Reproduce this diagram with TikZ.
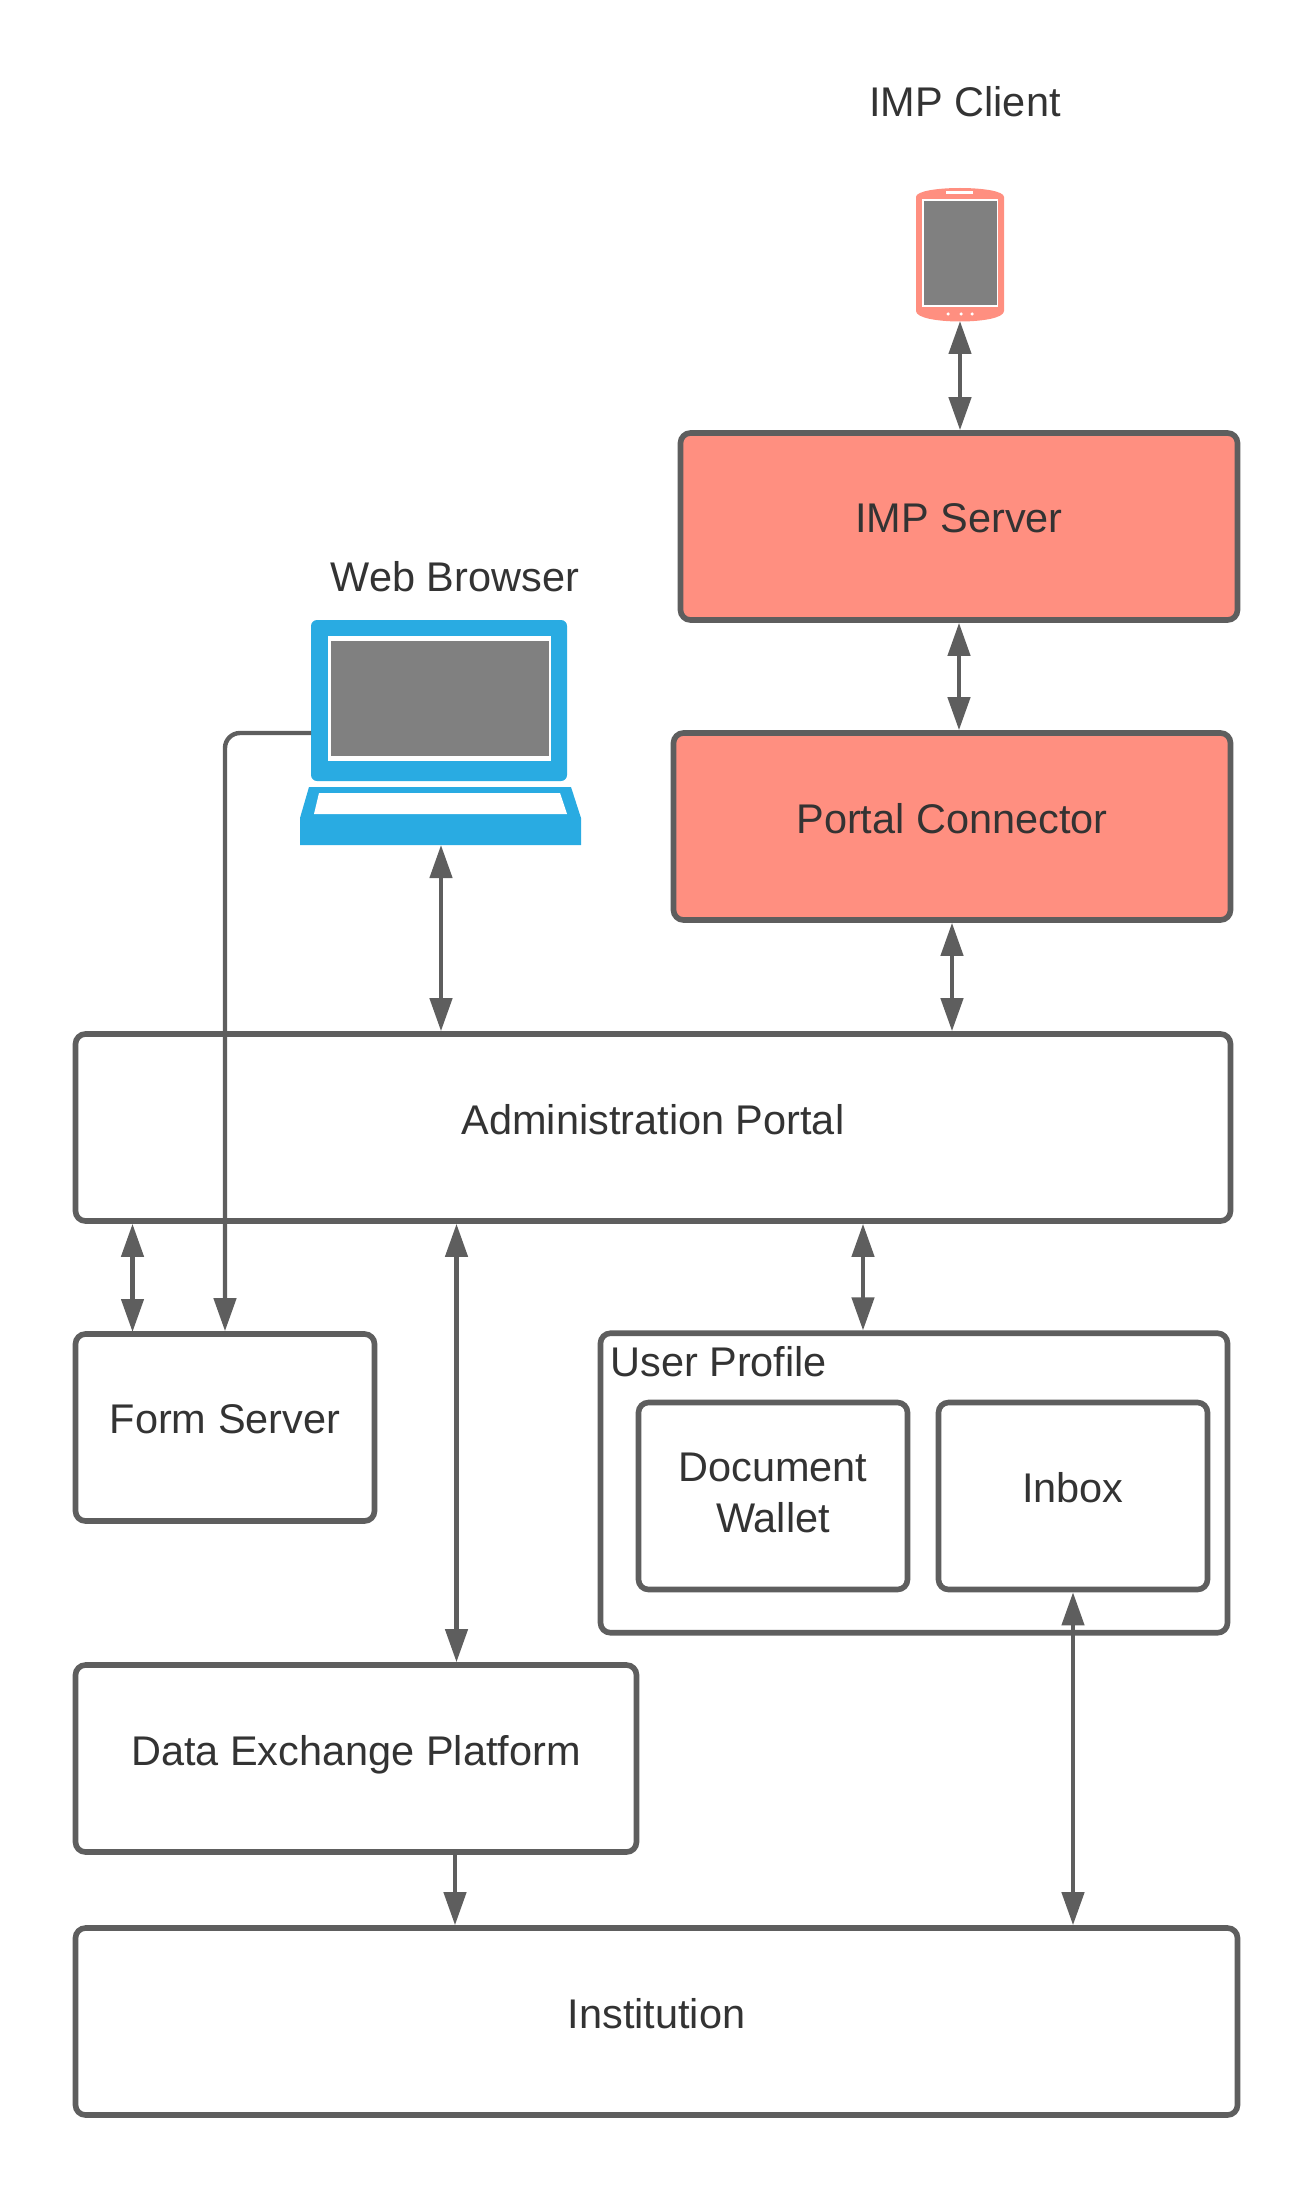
\documentclass[tikz,border=0pt]{standalone}
\usepackage{fontspec}
\setmainfont{Liberation Sans}
\usetikzlibrary{arrows.meta}
\definecolor{salmon}{HTML}{FF8F80}
\definecolor{edgegrey}{HTML}{5E5E5E}
\definecolor{textgrey}{HTML}{333333}
\definecolor{screengrey}{HTML}{808080}
\definecolor{laptopblue}{HTML}{29ABE2}
\begin{document}
\begin{tikzpicture}[
  box/.style={draw=edgegrey, line width=3.2pt, rounded corners=0.2cm, fill=white, minimum height=3.74cm, text=textgrey, font=\fontsize{23.6}{29}\selectfont, align=center, text depth=9.2pt, inner sep=0pt},
  red box/.style={box, fill=salmon},
  title/.style={text=textgrey, font=\fontsize{23.6}{29}\selectfont, inner sep=0pt},
  link/.style={edgegrey, line width=2.5pt, rounded corners=0.3cm},
  one way/.style={link, -{Triangle[length=0.66cm, width=0.44cm]}},
  two way/.style={link, {Triangle[length=0.66cm, width=0.44cm]}-{Triangle[length=0.66cm, width=0.44cm]}}
]
  \path[use as bounding box] (0,0) rectangle (26.26,-43.8);

  % Phone
  \fill[salmon] (18.32,-3.94) .. controls (18.32,-3.7) and (20.08,-3.7) .. (20.08,-3.94)
    -- (20.08,-6.22) .. controls (20.08,-6.5) and (18.32,-6.5) .. (18.32,-6.22) -- cycle;
  \fill[white] (18.44,-3.98) rectangle (19.96,-6.14);
  \fill[screengrey] (18.48,-4.02) rectangle (19.94,-6.1);
  \fill[white] (18.92,-3.83) rectangle (19.46,-3.89);
  \foreach \dotx in {18.96,19.22,19.44} {
    \fill[white] (\dotx,-6.28) circle (0.035);
  }

  % Laptop
  \fill[laptopblue, rounded corners=0.12cm] (6.22,-12.4) rectangle (11.34,-15.62);
  \fill[white] (6.56,-12.72) rectangle (11.02,-15.22);
  \fill[screengrey] (6.62,-12.82) rectangle (10.98,-15.12);
  \fill[laptopblue] (6.18,-15.74) -- (11.42,-15.74) -- (11.62,-16.36) -- (11.62,-16.9) -- (6.0,-16.9) -- (6.0,-16.36) -- cycle;
  \fill[white] (6.38,-15.86) -- (11.2,-15.86) -- (11.34,-16.28) -- (6.28,-16.28) -- cycle;

  % Free ends on the icons
  \coordinate (phone) at (19.2,-6.42);
  \coordinate (laptop bottom) at (8.82,-16.9);
  \coordinate (laptop side) at (6.22,-14.66);
  \coordinate (form top) at (2.65,-26.64);

  % Titles
  \node[title] (imp client) at (19.3,-2.04) {IMP Client};
  \node[title] (web browser) at (9.1,-11.54) {Web Browser};

  % Upper boxes
  \node[red box, minimum width=11.14cm] (imp server) at (19.18,-10.53) {IMP Server};
  \node[red box, minimum width=11.14cm] (portal) at (19.04,-16.53) {Portal Connector};
  \node[box, minimum width=23.1cm] (admin) at (13.06,-22.55) {Administration Portal};

  % Lower boxes
  \node[box, minimum width=5.98cm] (form) at (4.5,-28.55) {Form Server};
  \node[box, minimum width=12.54cm, minimum height=5.99cm] (profile) at (18.28,-29.66) {};
  \node[title, anchor=west] (profile title) at (12.2,-27.24) {User Profile};
  \node[box, minimum width=5.38cm, text depth=3.6pt] (wallet) at (15.46,-29.92) {Document\\Wallet};
  \node[box, minimum width=5.38cm] (inbox) at (21.46,-29.92) {Inbox};
  \node[box, minimum width=11.22cm] (exchange) at (7.12,-35.17) {Data Exchange Platform};
  \node[box, minimum width=23.24cm] (institution) at (13.13,-40.43) {Institution};

  % Double arrows
  \draw[two way] (phone) -- (phone |- imp server.north);
  \draw[two way] (imp server.south) -- (imp server.south |- portal.north);
  \draw[two way] (portal.south) -- (portal.south |- admin.north);
  \draw[two way] (laptop bottom) -- (laptop bottom |- admin.north);
  \draw[two way] (form top |- admin.south) -- (form top);
  \draw[two way] (exchange.north -| 9.13,0) -- (admin.south -| 9.13,0);
  \draw[two way] (admin.south -| 17.26,0) -- (profile.north -| 17.26,0);
  \draw[two way] (inbox.south) -- (inbox.south |- institution.north);

  % Single arrows
  \draw[one way] (laptop side) -| (form.north);
  \draw[one way] (exchange.south -| 9.1,0) -- (institution.north -| 9.1,0);
\end{tikzpicture}
\end{document}
